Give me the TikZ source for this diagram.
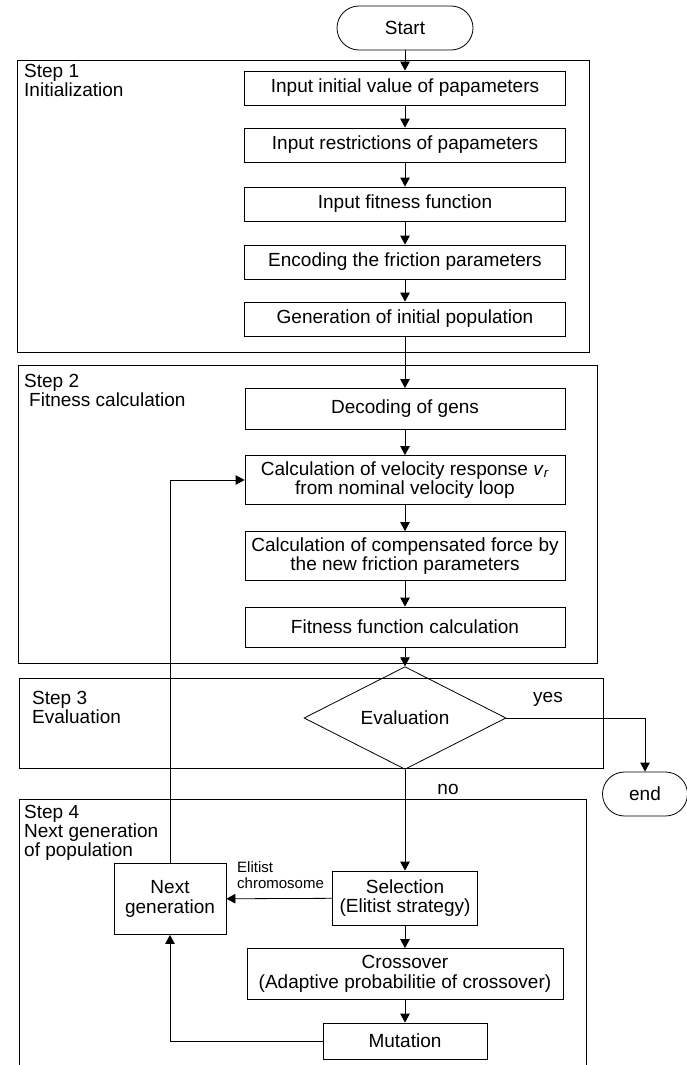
\documentclass[tikz,border=0pt]{standalone}
\usepackage{fontspec}
\setmainfont{Liberation Sans}
\usetikzlibrary{arrows.meta,shapes.geometric}

\begin{document}
\begin{tikzpicture}[x=1pt,y=-1pt]
  \tikzset{flow box/.style={draw,rectangle,line width=0.8pt,inner sep=0pt,align=center,font=\fontsize{19}{19.5}\selectfont}}
  \tikzset{terminal/.style={draw,rounded corners=22pt,line width=0.8pt,minimum height=44pt,font=\fontsize{19}{19.5}\selectfont}}
  \tikzset{flow/.style={line width=0.8pt,-{Triangle[length=9pt,width=9.5pt]}}}
  \tikzset{step frame/.style={draw,line width=0.8pt}}
  \tikzset{step label/.style={anchor=north west,inner sep=0pt,align=left,font=\fontsize{19}{19}\selectfont}}

  \useasboundingbox (0,0) rectangle (687,1065);
  \clip (0,0) rectangle (687,1065);

  \draw[step frame] (17,60) rectangle (589,352);
  \draw[step frame] (18,365) rectangle (597,663);
  \draw[step frame] (19,678) rectangle (603,768);
  \draw[step frame] (19,799) rectangle (586,1075);

  \node[step label] (s1) at (24,64.5) {Step 1\\Initialization};
  \node[step label] (s2) at (24,374.5) {Step 2\\\hspace{5pt}Fitness calculation};
  \node[step label] (s3) at (32,691) {Step 3\\Evaluation};
  \node[step label] (s4) at (24,805.5) {Step 4\\Next generation\\of population};

  \node [terminal, minimum width=136pt] (start) at (405,28) {Start};
  \node [flow box, minimum width=321pt, minimum height=34pt] (init) at (405,88) {Input initial value of papameters};
  \node [flow box, minimum width=321pt, minimum height=34pt] (restr) at (405,145) {Input restrictions of papameters};
  \node [flow box, minimum width=321pt, minimum height=34pt] (fitin) at (405,204) {Input fitness function};
  \node [flow box, minimum width=321pt, minimum height=34pt] (enc) at (405,262) {Encoding the friction parameters};
  \node [flow box, minimum width=321pt, minimum height=34pt] (gen) at (405,319) {Generation of initial population};

  \node [flow box, minimum width=320pt, minimum height=41pt] (dec) at (405,409) {Decoding of gens};
  \node [flow box, minimum width=320pt, minimum height=49pt] (vel) at (405,480) {Calculation of velocity response \textit{v}\textsubscript{\textit{r}}\\from nominal velocity loop};
  \node [flow box, minimum width=320pt, minimum height=49pt] (comp) at (405,556) {Calculation of compensated force by\\the new friction parameters};
  \node [flow box, minimum width=320pt, minimum height=40pt] (fitcalc) at (405,627) {Fitness function calculation};

  \node [flow box, diamond, minimum width=202pt, minimum height=67pt] (eval) at (405,718) {Evaluation};
  \node [terminal, minimum width=85pt] (end) at (645,794) {end};

  \node [flow box, minimum width=145pt, minimum height=54pt] (sel) at (405,898) {Selection\\(Elitist strategy)};
  \node [flow box, minimum width=316pt, minimum height=51pt] (cross) at (405,974) {Crossover\\(Adaptive probabilitie of crossover)};
  \node [flow box, minimum width=164pt, minimum height=36pt] (mut) at (405,1041) {Mutation};
  \node [flow box, minimum width=112pt, minimum height=71pt] (next) at (170,899) {Next\\generation};

  \node [font=\fontsize{19}{19}\selectfont] (yes) at (548,699) {yes};
  \node [font=\fontsize{19}{19}\selectfont] (no) at (448,789) {no};
  \node [anchor=north west,inner sep=0pt,align=left,font=\fontsize{15}{16}\selectfont] (elit) at (237,861) {Elitist\\chromosome};

  \draw[flow] (start) -- (init);
  \draw[flow] (init) -- (restr);
  \draw[flow] (restr) -- (fitin);
  \draw[flow] (fitin) -- (enc);
  \draw[flow] (enc) -- (gen);
  \draw[flow] (gen) -- (dec);
  \draw[flow] (dec) -- (vel);
  \draw[flow] (vel) -- (comp);
  \draw[flow] (comp) -- (fitcalc);
  \draw[flow] (fitcalc) -- (eval);
  \draw[flow] (eval.east) -| (end.north);
  \draw[flow] (eval.south) -- (sel.north);
  \draw[flow] (sel) -- (next);
  \draw[flow] (sel) -- (cross);
  \draw[flow] (cross) -- (mut);
  \draw[flow] (mut.west) -| (next.south);
  \draw[flow] (next.north) |- (vel.west);
\end{tikzpicture}
\end{document}
